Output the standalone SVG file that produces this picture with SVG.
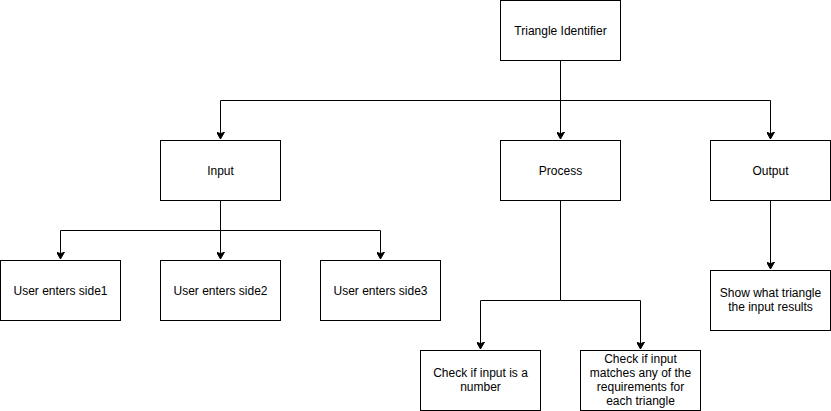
<svg xmlns="http://www.w3.org/2000/svg" width="831" height="411" viewBox="0 0 831 411">
<style>
.box{fill:#ffffff;stroke:#000000;stroke-width:1}
.lbl{font-family:"Liberation Sans",Arial,Helvetica,sans-serif;font-size:12px;fill:#000000;text-anchor:middle}
.edge{fill:none;stroke:#000000;stroke-width:1;marker-end:url(#arr)}
</style>
<defs>
<marker id="arr" markerWidth="8" markerHeight="8" refX="7" refY="4" orient="auto" markerUnits="userSpaceOnUse">
<path d="M0,0 L7,4 L0,8 L1.75,4 Z" fill="#000000" stroke="#000000" stroke-width="1"/>
</marker>
</defs>
<rect width="831" height="411" fill="#ffffff"/>
<g id="connectors">
<path class="edge" d="M560.5,60.5 L560.5,100.5 L220.5,100.5 L220.5,139"/>
<path class="edge" d="M560.5,60.5 L560.5,139"/>
<path class="edge" d="M560.5,100.5 L770.5,100.5 L770.5,139"/>
<path class="edge" d="M220.5,200.5 L220.5,230.5 L60.5,230.5 L60.5,259"/>
<path class="edge" d="M220.5,200.5 L220.5,259"/>
<path class="edge" d="M220.5,230.5 L380.5,230.5 L380.5,259"/>
<path class="edge" d="M560.5,200.5 L560.5,300.5 L480.5,300.5 L480.5,349"/>
<path class="edge" d="M560.5,300.5 L640.5,300.5 L640.5,349"/>
<path class="edge" d="M770.5,200.5 L770.5,269"/>
</g>
<g id="triangle-identifier">
<rect class="box" x="500.5" y="0.5" width="120" height="60"/>
<text class="lbl" x="560.5" y="34.5">Triangle Identifier</text>
</g>
<g id="input">
<rect class="box" x="160.5" y="140.5" width="120" height="60"/>
<text class="lbl" x="220.5" y="174.5">Input</text>
</g>
<g id="process">
<rect class="box" x="500.5" y="140.5" width="120" height="60"/>
<text class="lbl" x="560.5" y="174.5">Process</text>
</g>
<g id="output">
<rect class="box" x="710.5" y="140.5" width="120" height="60"/>
<text class="lbl" x="770.5" y="174.5">Output</text>
</g>
<g id="side1">
<rect class="box" x="0.5" y="260.5" width="120" height="60"/>
<text class="lbl" x="60.5" y="294.5">User enters side1</text>
</g>
<g id="side2">
<rect class="box" x="160.5" y="260.5" width="120" height="60"/>
<text class="lbl" x="220.5" y="294.5">User enters side2</text>
</g>
<g id="side3">
<rect class="box" x="320.5" y="260.5" width="120" height="60"/>
<text class="lbl" x="380.5" y="294.5">User enters side3</text>
</g>
<g id="check-number">
<rect class="box" x="420.5" y="350.5" width="120" height="60"/>
<text class="lbl" x="480.5" y="377">Check if input is a</text>
<text class="lbl" x="480.5" y="391">number</text>
</g>
<g id="check-requirements">
<rect class="box" x="580.5" y="350.5" width="120" height="60"/>
<text class="lbl" x="640.5" y="363">Check if input</text>
<text class="lbl" x="640.5" y="377">matches any of the</text>
<text class="lbl" x="640.5" y="391">requirements for</text>
<text class="lbl" x="640.5" y="405">each triangle</text>
</g>
<g id="show-result">
<rect class="box" x="710.5" y="270.5" width="120" height="60"/>
<text class="lbl" x="770.5" y="297">Show what triangle</text>
<text class="lbl" x="770.5" y="311">the input results</text>
</g>
</svg>
